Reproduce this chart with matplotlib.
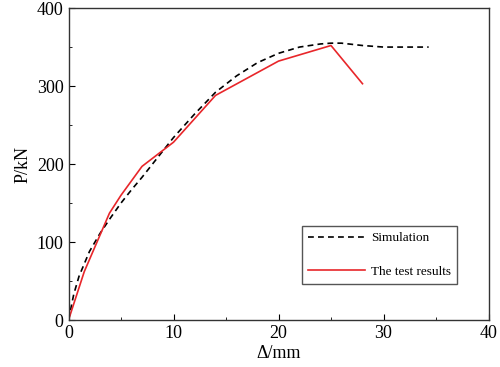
import matplotlib.pyplot as plt
from matplotlib.ticker import MultipleLocator

plt.rcParams['font.family'] = ['Liberation Serif', 'DejaVu Serif']

# Simulation curve
sim_x = [0, 0.5, 1, 2, 3, 4, 5, 6, 7, 8, 9, 10, 12, 14, 16, 18, 20, 22, 24, 25, 26, 28, 30, 32, 34.3]
sim_y = [0, 33, 56, 88, 111, 131, 150, 167, 183, 200, 217, 234, 264, 292, 313, 330, 342, 350, 354, 355, 355, 352, 350, 350, 350]

# Test results
test_x = [0, 1.5, 3.9, 5, 7, 10, 14, 20, 25, 28]
test_y = [0, 62, 137, 160, 197, 228, 288, 332, 352, 303]

fig, ax = plt.subplots(figsize=(5, 3.67), dpi=100)
fig.subplots_adjust(left=0.137, right=0.977, top=0.978, bottom=0.128)

ax.plot(sim_x, sim_y, color='black', linestyle=(0, (3.5, 2.5)), linewidth=1.2, label='Simulation')
ax.plot(test_x, test_y, color='#e8262a', linewidth=1.2, label='The test results')

ax.set_xlim(0, 40)
ax.set_ylim(0, 400)
ax.xaxis.set_major_locator(MultipleLocator(10))
ax.xaxis.set_minor_locator(MultipleLocator(5))
ax.yaxis.set_major_locator(MultipleLocator(100))
ax.yaxis.set_minor_locator(MultipleLocator(50))
ax.tick_params(which='both', direction='in', labelsize=13, top=False, right=False)
ax.tick_params(which='major', length=4)
ax.tick_params(which='minor', length=2.5)
for s in ax.spines.values():
    s.set_color('#333333')
    s.set_linewidth(1.0)

ax.set_xlabel('Δ/mm', fontsize=13, labelpad=2)
ax.set_ylabel('P/kN', fontsize=13, labelpad=4)

leg = ax.legend(loc='lower left', bbox_to_anchor=(0.556, 0.117), fontsize=9.5, handlelength=4.3,
                handletextpad=0.5, labelspacing=1.6, borderpad=0.45, borderaxespad=0,
                fancybox=False, framealpha=1)
leg.get_frame().set_edgecolor('#555555')
leg.get_frame().set_linewidth(1.0)

fig.savefig('out.png', dpi=100)
